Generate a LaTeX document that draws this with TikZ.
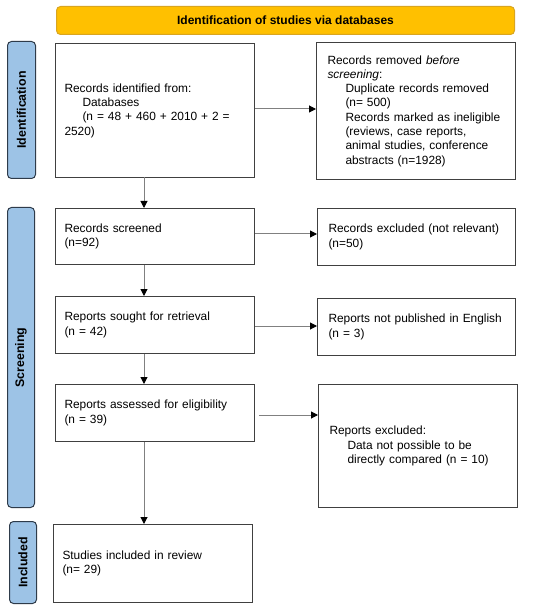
\documentclass[tikz,border=0pt]{standalone}
\usepackage{fontspec}
\setmainfont{Liberation Sans}
\usetikzlibrary{arrows.meta}
\definecolor{hdrfill}{HTML}{FFC000}
\definecolor{hdrline}{HTML}{D9A520}
\definecolor{barfill}{HTML}{9DC3E6}
\definecolor{barline}{HTML}{2E3B4A}
\definecolor{boxline}{HTML}{404040}
\definecolor{arrline}{HTML}{808080}
\tikzset{
  flowbox/.style={draw=boxline, line width=1pt, fill=white, align=left, anchor=north west,
    inner sep=0pt, font=\fontsize{11.9}{14.3}\selectfont},
  sidebar/.style={draw=barline, line width=1pt, fill=barfill, rounded corners=4pt, anchor=north west, inner sep=0pt},
  sidelabel/.style={rotate=90, font=\bfseries\fontsize{12.4}{14}\selectfont},
  flowarrow/.style={draw=arrline, line width=1pt, -{Triangle[length=7pt,width=7pt,fill=black,color=black]}},
}
\newcommand{\ind}{\hspace*{18pt}}
\begin{document}
\begin{tikzpicture}[x=1pt,y=-1pt]
\useasboundingbox (0,0) rectangle (550,609);
% header
\node[draw=hdrline, line width=1pt, fill=hdrfill, rounded corners=4pt, anchor=north west,
  minimum width=458pt, minimum height=28pt, inner sep=0pt, font=\bfseries\fontsize{12}{14}\selectfont]
  (hdr) at (56,6) {Identification of studies via databases};
% side bars
\node[sidebar, minimum width=28pt, minimum height=137pt] (barid) at (7,41) {};
\node[sidelabel] (lblid) at (barid.center) {Identification};
\node[sidebar, minimum width=27pt, minimum height=300pt] (barsc) at (7,207) {};
\node[sidelabel] (lblsc) at (barsc.center) {Screening};
\node[sidebar, minimum width=27pt, minimum height=82pt] (barin) at (9,521) {};
\node[sidelabel] (lblin) at (barin.center) {Included};
% left column
\node[flowbox, minimum width=199pt, minimum height=134pt, text width=181pt] (b1) at (55,43) {%
Records identified from:\\
\ind Databases\\
\ind (n = 48 + 460 + 2010 + 2 =\\
2520)};
\node[flowbox, minimum width=199pt, minimum height=56pt, text width=181pt] (b2) at (55,208) {%
Records screened\\(n=92)};
\node[flowbox, minimum width=199pt, minimum height=57pt, text width=181pt] (b3) at (55,296) {%
Reports sought for retrieval\\(n = 42)};
\node[flowbox, minimum width=199pt, minimum height=57pt, text width=181pt] (b4) at (55,384) {%
Reports assessed for eligibility\\(n = 39)};
\node[flowbox, minimum width=199pt, minimum height=78pt, text width=181pt] (b5) at (53,524) {%
Studies included in review\\(n= 29)};
% right column
\node[flowbox, minimum width=199pt, minimum height=137pt, text width=177pt] (r1) at (316,42) {%
Records removed \textit{before}\\
\textit{screening}:\\
\ind Duplicate records removed\\
\ind (n= 500)\\
\ind Records marked as ineligible\\
\ind (reviews, case reports,\\
\ind animal studies, conference\\
\ind abstracts (n=1928)};
\node[flowbox, minimum width=198pt, minimum height=57pt, text width=176pt] (r2) at (317,208) {%
Records excluded (not relevant)\\(n=50)};
\node[flowbox, minimum width=198pt, minimum height=57pt, text width=176pt] (r3) at (317,298) {%
Reports not published in English\\(n = 3)};
\node[flowbox, minimum width=199pt, minimum height=123pt, text width=177pt] (r4) at (318,384) {%
Reports excluded:\\
\ind Data not possible to be\\
\ind directly compared (n = 10)\\[10pt]};
% arrows
\coordinate (c1) at (144,177);
\draw[flowarrow] (c1) -- (b2.north -| c1);
\draw[flowarrow] (b2.south -| c1) -- (b3.north -| c1);
\draw[flowarrow] (b3.south -| c1) -- (b4.north -| c1);
\draw[flowarrow] (b4.south -| c1) -- (b5.north -| c1);
\draw[flowarrow] (b1.east |- 0,109) -- (r1.west |- 0,109);
\draw[flowarrow] (b2.east |- 0,234) -- (r2.west |- 0,234);
\draw[flowarrow] (b3.east |- 0,326) -- (r3.west |- 0,326);
\draw[flowarrow] ([xshift=4pt]b4.east |- 0,415) -- (r4.west |- 0,415);
\end{tikzpicture}
\end{document}
